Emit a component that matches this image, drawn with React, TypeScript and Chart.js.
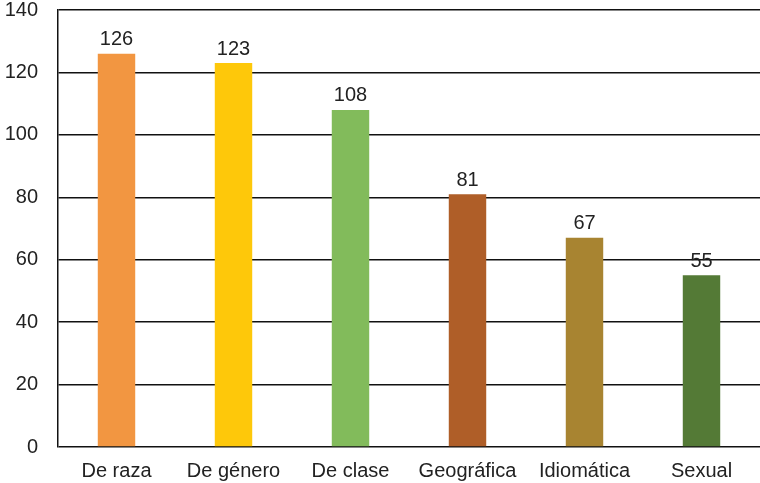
import React, { useEffect, useRef } from "react";
import { Chart, registerables } from "chart.js";

Chart.register(...registerables);

const categories = ["De raza", "De género", "De clase", "Geográfica", "Idiomática", "Sexual"];
const values = [126, 123, 108, 81, 67, 55];
const colors = ["#F29641", "#FEC80A", "#82BB5B", "#AF5E28", "#A88431", "#547A36"];
const yTicks = [0, 20, 40, 60, 80, 100, 120, 140];

const FONT = "'Liberation Sans', Arial, sans-serif";

const valueLabels = {
  id: "valueLabels",
  afterDatasetsDraw(chart: any) {
    const ctx = chart.ctx;
    const meta = chart.getDatasetMeta(0);
    ctx.save();
    ctx.font = `20px ${FONT}`;
    ctx.fillStyle = "#222";
    ctx.textAlign = "center";
    ctx.textBaseline = "bottom";
    meta.data.forEach((bar: any, i: number) => {
      ctx.fillText(String(values[i]), bar.x, bar.y - 4);
    });
    ctx.restore();
  },
};

export default function App() {
  const ref = useRef<HTMLCanvasElement | null>(null);
  useEffect(() => {
    if (!ref.current) return;
    const chart = new Chart(ref.current, {
      type: "bar",
      data: {
        labels: categories,
        datasets: [
          {
            data: values,
            backgroundColor: colors,
            barPercentage: 0.32,
            categoryPercentage: 1,
          },
        ],
      },
      options: {
        animation: false,
        responsive: false,
        maintainAspectRatio: false,
        layout: { padding: { top: 10, right: 0, bottom: 0, left: 0 } },
        plugins: { legend: { display: false }, tooltip: { enabled: false } },
        scales: {
          x: {
            afterFit: (axis: any) => {
              axis.height = 36;
              axis.paddingLeft = 0;
              axis.paddingRight = 0;
            },
            grid: { display: false, drawTicks: false },
            border: { display: false },
            ticks: { color: "#222", font: { family: FONT, size: 20 }, padding: 12 },
          },
          y: {
            min: 0,
            max: 140,
            afterBuildTicks: (axis: any) => {
              axis.ticks = yTicks.map((v) => ({ value: v }));
            },
            afterFit: (axis: any) => {
              axis.width = 58;
              axis.paddingTop = 0;
              axis.paddingBottom = 0;
            },
            grid: { color: "#111", lineWidth: 1.5, drawTicks: false },
            border: { display: true, color: "#111", width: 1.5 },
            ticks: { color: "#222", font: { family: FONT, size: 20 }, padding: 20 },
          },
        },
      },
      plugins: [valueLabels],
    });
    return () => chart.destroy();
  }, []);
  return (
    <div style={{ position: "absolute", left: 0, top: 0, width: 760, height: 483, background: "#fff" }}>
      <canvas ref={ref} width={760} height={483} style={{ width: 760, height: 483 }} />
    </div>
  );
}
